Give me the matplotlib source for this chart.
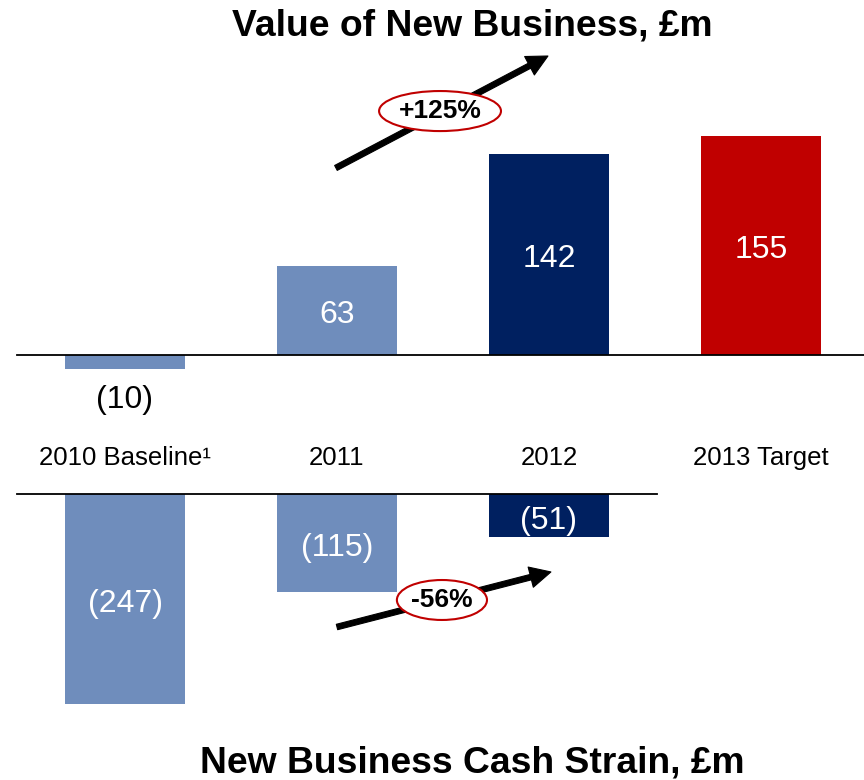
import matplotlib
matplotlib.use("Agg")
import matplotlib.pyplot as plt
from matplotlib.patches import Ellipse

plt.rcParams['font.family'] = ['Liberation Sans', 'DejaVu Sans']

categories = ["2010 Baseline\u00b9", "2011", "2012", "2013 Target"]
vnb = [-10, 63, 142, 155]
strain = [-247, -115, -51]
vnb_colors = ['#6F8DBC', '#6F8DBC', '#002060', '#C00000']
strain_colors = ['#6F8DBC', '#6F8DBC', '#002060']
vnb_change = "+125%"
strain_change = "-56%"


def fmt(v):
    return "(%d)" % abs(v) if v < 0 else "%d" % v


arrow_style = dict(arrowstyle='simple,head_length=0.75,head_width=0.75,tail_width=0.2',
                   mutation_scale=20, fc='black', ec='black', lw=0.8,
                   shrinkA=0, shrinkB=0)

fig = plt.figure(figsize=(8.64, 7.8), dpi=100)

# ---- top panel: value of new business
ax1 = fig.add_axes([0, 1 - 470 / 780, 1, 420 / 780])
ax1.set_xlim(-125 / 212, (864 - 125) / 212)
ax1.set_ylim(-115 / 1.415, 305 / 1.415)
ax1.axis('off')

x = range(len(vnb))
ax1.bar(x, vnb, width=0.566, color=vnb_colors)
ax1.plot([-0.51, 3.49], [0, 0], color='black', lw=1.3)
for i, v in enumerate(vnb):
    if v < 0:
        ax1.text(i, v - 22, fmt(v), ha='center', va='center', fontsize=23, color='black')
    else:
        ax1.annotate(fmt(v), (i, v / 2), xytext=(0, -3.5), textcoords='offset points',
                     ha='center', va='center', fontsize=23, color='white')
for i, c in enumerate(categories):
    ax1.text(i, -72.5, c, ha='center', va='center', fontsize=18.5)

ax1.annotate('', xy=(1.995, 211.3), xytext=(0.995, 132.2), arrowprops=arrow_style)
ax1.add_patch(Ellipse((1.486, 172.4), 0.575, 28.3, fc='white', ec='#C00000', lw=1.5, zorder=5))
ax1.text(1.486, 172.4, vnb_change, ha='center', va='center', fontsize=19,
         fontweight='bold', zorder=6)

# ---- bottom panel: new business cash strain
ax2 = fig.add_axes([0, 50 / 780, 1, 260 / 780])
ax2.set_xlim(-125 / 212, (864 - 125) / 212)
ax2.set_ylim(-236 / 0.852, 24 / 0.852)
ax2.axis('off')

x2 = range(len(strain))
ax2.bar(x2, strain, width=0.566, color=strain_colors)
ax2.plot([-0.51, 2.51], [0, 0], color='black', lw=1.3)
for i, v in enumerate(strain):
    ax2.annotate(fmt(v), (i, v / 2), xytext=(0, -3.5), textcoords='offset points',
                 ha='center', va='center', fontsize=23, color='white')

ax2.annotate('', xy=(2.009, -91.5), xytext=(1.0, -156.1), arrowprops=arrow_style)
ax2.add_patch(Ellipse((1.495, -124.4), 0.425, 46.9, fc='white', ec='#C00000', lw=1.5, zorder=5))
ax2.text(1.495, -124.4, strain_change, ha='center', va='center', fontsize=19,
         fontweight='bold', zorder=6)

fig.text(472 / 864, 1 - 26 / 780, "Value of New Business, \u00a3m", ha='center', va='center',
         fontsize=26.8, fontweight='bold')
fig.text(472 / 864, 1 - 763 / 780, "New Business Cash Strain, \u00a3m", ha='center', va='center',
         fontsize=26.8, fontweight='bold')

fig.savefig('out.png', dpi=100)
